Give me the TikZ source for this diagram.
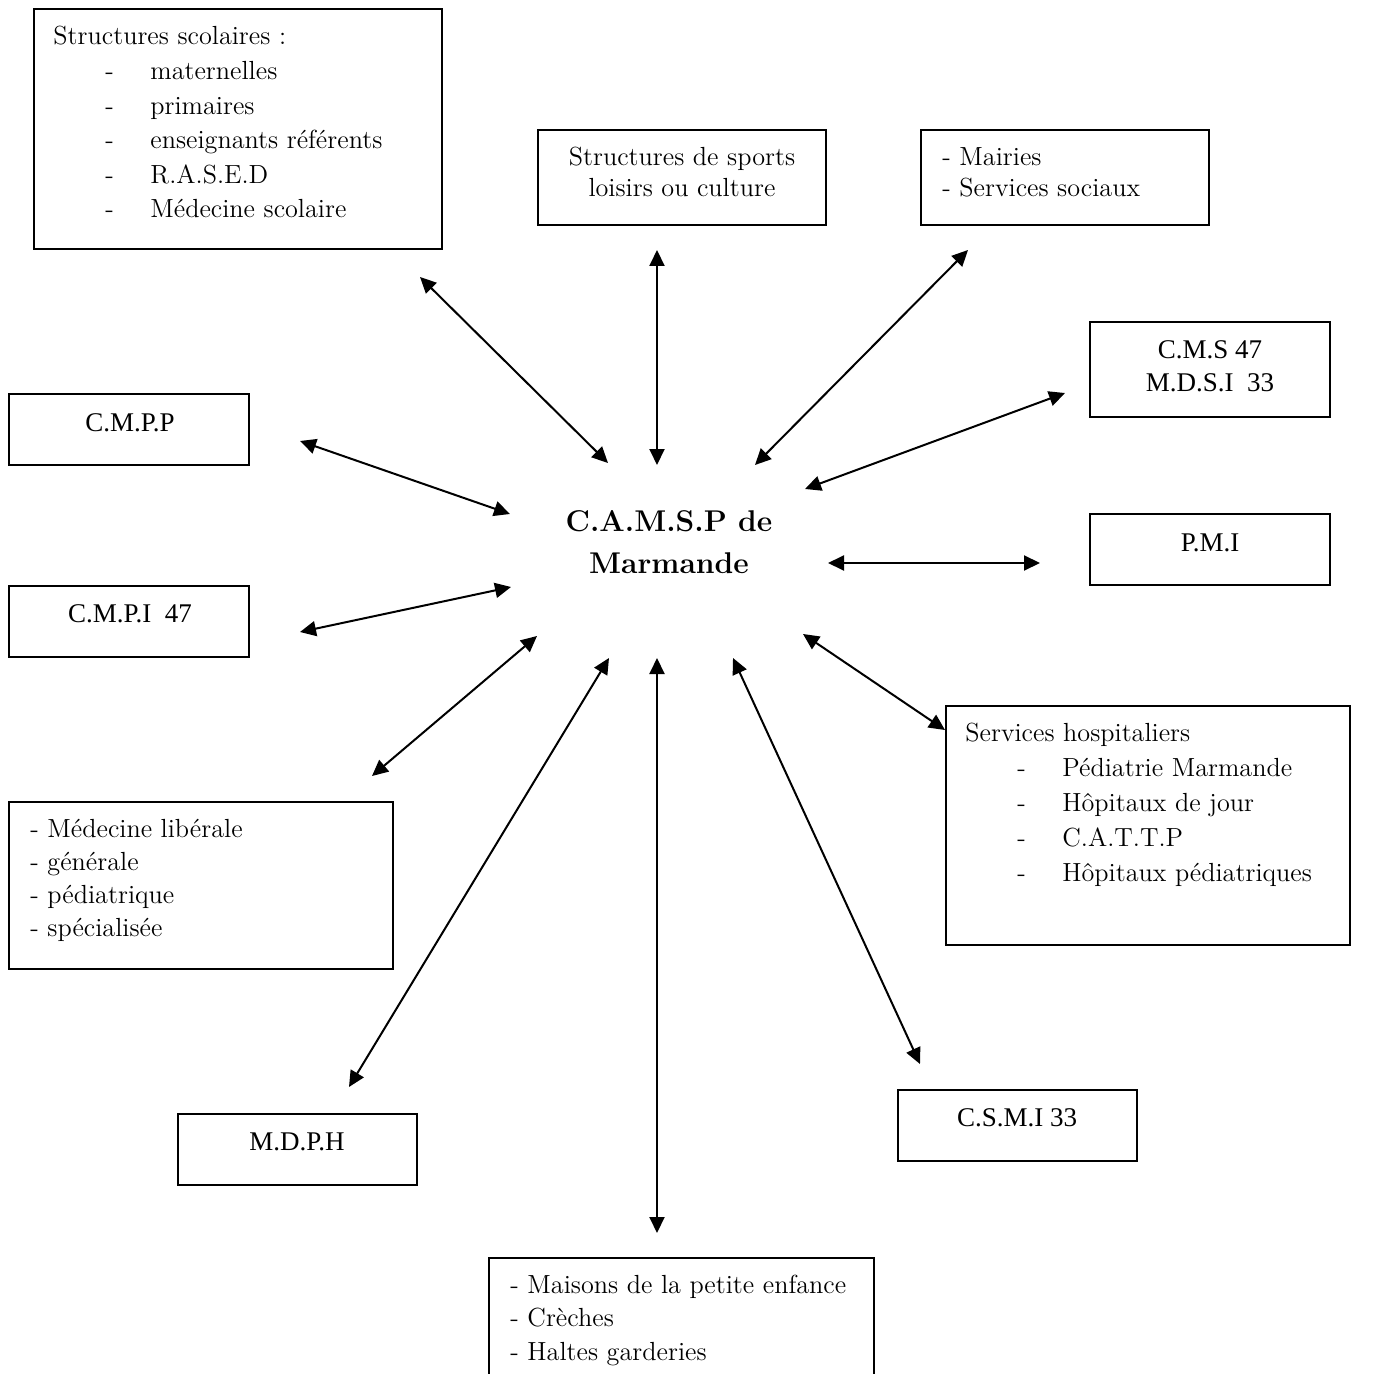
\documentclass[tikz,border=0pt]{standalone}
\usepackage{fontspec}
\newfontfamily\timesfont{Liberation Serif}
\usetikzlibrary{arrows.meta}

\newcommand{\pile}[1]{\begin{tabular}[t]{@{}l@{}}#1\end{tabular}}
\newcommand{\pilec}[1]{\begin{tabular}[t]{@{}c@{}}#1\end{tabular}}
\newcommand{\tiret}[1]{\makebox[48.5pt][l]{\hspace*{26pt}-}#1}

\tikzset{
  box/.style={draw, line width=1pt, inner sep=0pt},
  lbl/.style={inner sep=0pt, anchor=base west, font=\fontsize{13.1}{#1}\selectfont},
  lbl/.default=17.5pt,
  abbr/.style={inner sep=0pt, anchor=base, font=\timesfont\fontsize{13.5}{#1}\selectfont},
  abbr/.default=16.5pt,
  centre/.style={inner sep=0pt, anchor=base, font=\bfseries\fontsize{15}{21}\selectfont},
  link/.style={line width=1pt, {Triangle[length=8pt,width=7.5pt]}-{Triangle[length=8pt,width=7.5pt]}}
}

\begin{document}
\begin{tikzpicture}[x=0.5pt,y=-0.5pt]
  \useasboundingbox (0,0) rectangle (1386,1374);

  % boxes
  \node[box, minimum width=204pt, minimum height=120pt] (scol) at (238,129) {};
  \node[box, minimum width=144pt, minimum height=47.5pt] (sport) at (682,177.5) {};
  \node[box, minimum width=144pt, minimum height=47.5pt] (mairie) at (1065,177.5) {};
  \node[box, minimum width=120pt, minimum height=47.5pt] (cms) at (1210,369.5) {};
  \node[box, minimum width=120pt, minimum height=35.5pt] (cmpp) at (129,429.5) {};
  \node[box, minimum width=120pt, minimum height=35.5pt] (pmi) at (1210,549.5) {};
  \node[box, minimum width=120pt, minimum height=35.5pt] (cmpi) at (129,621.5) {};
  \node[box, minimum width=202pt, minimum height=119.5pt] (hosp) at (1148,825.5) {};
  \node[box, minimum width=192pt, minimum height=83.5pt] (medlib) at (201,885.5) {};
  \node[box, minimum width=119.5pt, minimum height=35.5pt] (mdph) at (297.5,1149.5) {};
  \node[box, minimum width=119.5pt, minimum height=35.5pt] (csmi) at (1017.5,1125.5) {};
  \node[box, minimum width=192.5pt, minimum height=76pt] (maison) at (681.5,1334) {};

  % texts
  \node[centre] (camsp) at (669,531) {\pilec{C.A.M.S.P de\\Marmande}};
  \node[lbl=17.3pt] (scol-t) at (53,45) {\pile{Structures scolaires :\\
    \tiret{maternelles}\\ \tiret{primaires}\\ \tiret{enseignants référents}\\
    \tiret{R.A.S.E.D}\\ \tiret{Médecine scolaire}}};
  \node[lbl=15.5pt, anchor=base] (sport-t) at (682,166) {\pilec{Structures de sports\\loisirs ou culture}};
  \node[lbl=15.5pt] (mairie-t) at (942,166) {\pile{- Mairies\\- Services sociaux}};
  \node[abbr] (cms-t) at (1210,359) {\pilec{C.M.S 47\\M.D.S.I\ \ 33}};
  \node[abbr] (cmpp-t) at (130,431) {C.M.P.P};
  \node[abbr] (pmi-t) at (1210,551) {P.M.I};
  \node[abbr] (cmpi-t) at (130,622) {C.M.P.I\ \ 47};
  \node[lbl=17.6pt] (hosp-t) at (965,741) {\pile{Services hospitaliers\\
    \tiret{Pédiatrie Marmande}\\ \tiret{Hôpitaux de jour}\\
    \tiret{C.A.T.T.P}\\ \tiret{Hôpitaux pédiatriques}}};
  \node[lbl=16.5pt] (medlib-t) at (30,837) {\pile{- Médecine libérale\\- générale\\- pédiatrique\\- spécialisée}};
  \node[abbr] (mdph-t) at (297,1150) {M.D.P.H};
  \node[abbr] (csmi-t) at (1017,1126) {C.S.M.I 33};
  \node[lbl=16.75pt] (maison-t) at (510,1293) {\pile{- Maisons de la petite enfance\\- Crèches\\- Haltes garderies}};

  % arrow ends
  \coordinate (a-scol) at (420,277);   \coordinate (b-scol) at (608,463);
  \coordinate (a-sport) at (657,250);  \coordinate (b-sport) at (657,465);
  \coordinate (a-mairie) at (968,250); \coordinate (b-mairie) at (755,465);
  \coordinate (a-cms) at (1065,393);   \coordinate (b-cms) at (805,489);
  \coordinate (a-cmpp) at (300,441);   \coordinate (b-cmpp) at (510,514);
  \coordinate (a-pmi) at (1040,563);   \coordinate (b-pmi) at (828,563);
  \coordinate (a-cmpi) at (300,632);   \coordinate (b-cmpi) at (511,587);
  \coordinate (a-medlib) at (372,776); \coordinate (b-medlib) at (537,636);
  \coordinate (a-mdph) at (349,1087);  \coordinate (b-mdph) at (609,658);
  \coordinate (a-maison) at (657,1233);\coordinate (b-maison) at (657,658);
  \coordinate (a-csmi) at (920,1064);  \coordinate (b-csmi) at (733,658);
  \coordinate (a-hosp) at (945,730);   \coordinate (b-hosp) at (803,634);

  \foreach \n in {scol,sport,mairie,cms,cmpp,pmi,cmpi,medlib,mdph,maison,csmi,hosp}
    \draw[link] (a-\n) -- (b-\n);

\end{tikzpicture}
\end{document}
